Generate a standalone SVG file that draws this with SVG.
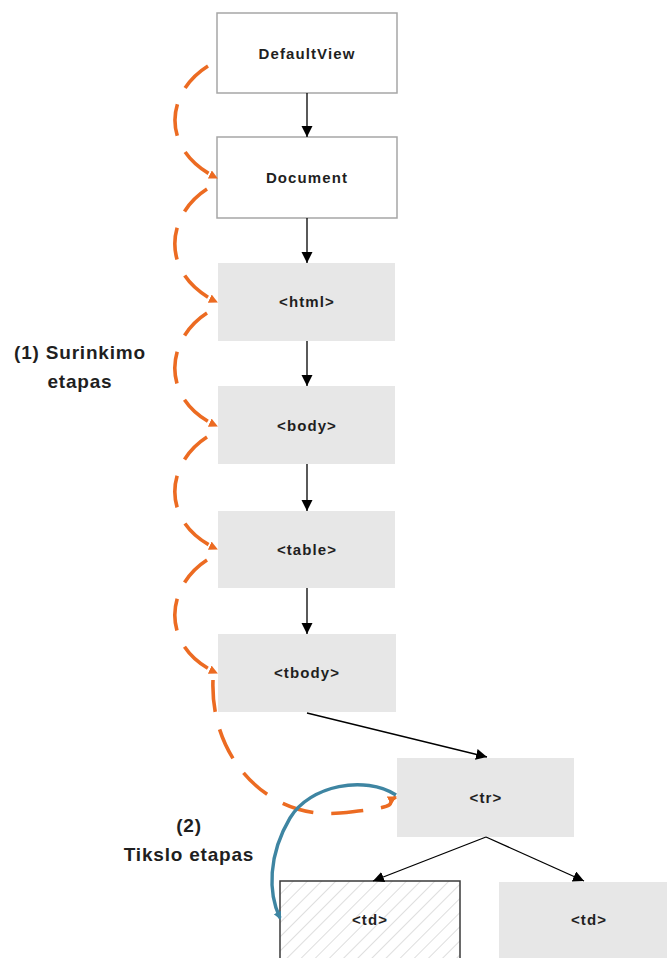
<svg xmlns="http://www.w3.org/2000/svg" width="667" height="958" viewBox="0 0 667 958">
  <style>
    .box-white { fill: #ffffff; stroke: #a6a6a6; stroke-width: 1.5; }
    .box-grey { fill: #e7e7e7; stroke: none; }
    .box-hatch { fill: url(#hatch); stroke: #3a3a3a; stroke-width: 1.5; }
    .node-label { font-family: "Liberation Sans", Arial, sans-serif; font-size: 15px; font-weight: bold; letter-spacing: 1.1px; fill: #1f1f1f; text-anchor: middle; }
    .side-label { font-family: "Liberation Sans", Arial, sans-serif; font-size: 19px; font-weight: bold; letter-spacing: 0.8px; fill: #1f1f1f; text-anchor: middle; }
    .edge { fill: none; stroke: #000000; stroke-width: 1.3; marker-end: url(#arrow-black); }
    .step-collect { fill: none; stroke: #ec6b22; stroke-width: 3.6; stroke-dasharray: 32 18; marker-end: url(#arrow-orange); }
    .step-target { fill: none; stroke: #3e85a2; stroke-width: 3.4; marker-end: url(#arrow-blue); }
  </style>
  <defs>
    <pattern id="hatch" patternUnits="userSpaceOnUse" width="10" height="10" patternTransform="rotate(45)">
      <rect width="10" height="10" fill="#ffffff"/>
      <line x1="0" y1="0" x2="0" y2="10" stroke="#c8c8c8" stroke-width="1.2"/>
    </pattern>
    <marker id="arrow-black" markerUnits="userSpaceOnUse" markerWidth="12" markerHeight="12" refX="11" refY="5.5" orient="auto">
      <path d="M0,0 L11,5.5 L0,11 z" fill="#000000"/>
    </marker>
    <marker id="arrow-orange" markerUnits="userSpaceOnUse" markerWidth="10" markerHeight="10" refX="8" refY="4.5" orient="auto">
      <path d="M0,0 L9,4.5 L0,9 z" fill="#ec6b22"/>
    </marker>
    <marker id="arrow-blue" markerUnits="userSpaceOnUse" markerWidth="10" markerHeight="10" refX="6" refY="4" orient="auto">
      <path d="M0,0 L8,4 L0,8 z" fill="#3e85a2"/>
    </marker>
  </defs>

  <rect width="667" height="958" fill="#ffffff"/>

  <!-- tree nodes -->
  <g id="node-defaultview">
    <rect class="box-white" x="217" y="13" width="180" height="80"/>
    <text class="node-label" x="307" y="59">DefaultView</text>
  </g>
  <g id="node-document">
    <rect class="box-white" x="217" y="137" width="180" height="81"/>
    <text class="node-label" x="307" y="183">Document</text>
  </g>
  <g id="node-html">
    <rect class="box-grey" x="218" y="263" width="177" height="78"/>
    <text class="node-label" x="307" y="307">&lt;html&gt;</text>
  </g>
  <g id="node-body">
    <rect class="box-grey" x="218" y="386" width="177" height="78"/>
    <text class="node-label" x="307" y="431">&lt;body&gt;</text>
  </g>
  <g id="node-table">
    <rect class="box-grey" x="218" y="511" width="177" height="77"/>
    <text class="node-label" x="307" y="555">&lt;table&gt;</text>
  </g>
  <g id="node-tbody">
    <rect class="box-grey" x="218" y="634" width="178" height="78"/>
    <text class="node-label" x="307" y="678">&lt;tbody&gt;</text>
  </g>
  <g id="node-tr">
    <rect class="box-grey" x="397" y="758" width="177" height="79"/>
    <text class="node-label" x="486" y="803">&lt;tr&gt;</text>
  </g>
  <g id="node-td-target">
    <rect class="box-hatch" x="280" y="881" width="180" height="80"/>
    <text class="node-label" x="370" y="925">&lt;td&gt;</text>
  </g>
  <g id="node-td">
    <rect class="box-grey" x="499" y="882" width="170" height="80"/>
    <text class="node-label" x="589" y="925">&lt;td&gt;</text>
  </g>

  <!-- parent/child connectors -->
  <g id="connectors">
    <line class="edge" x1="307" y1="93" x2="307" y2="137"/>
    <line class="edge" x1="307" y1="218" x2="307" y2="263"/>
    <line class="edge" x1="307" y1="341" x2="307" y2="386"/>
    <line class="edge" x1="307" y1="464" x2="307" y2="511"/>
    <line class="edge" x1="307" y1="588" x2="307" y2="634"/>
    <line class="edge" x1="307" y1="713" x2="487" y2="757"/>
    <line class="edge" x1="486" y1="837" x2="373" y2="881"/>
    <line class="edge" x1="486" y1="837" x2="584" y2="881"/>
  </g>

  <!-- event phases -->
  <g id="phase-capture">
    <path class="step-collect" d="M208,66 C165,93 160,150 217,178"/>
    <path class="step-collect" d="M207,189 C165,216 160,275 217,302"/>
    <path class="step-collect" d="M207,313 C165,340 160,400 217,426"/>
    <path class="step-collect" d="M207,437 C165,464 160,523 217,549"/>
    <path class="step-collect" d="M207,560 C165,587 160,647 217,673"/>
    <path class="step-collect" d="M213,680 C210,760 270,820 340,813 S382,804 396,797"/>
  </g>
  <g id="phase-target">
    <path class="step-target" d="M396,795 C365,775 310,785 290,818 C268,855 268,893 280,918"/>
  </g>

  <!-- phase labels -->
  <g id="labels">
    <text class="side-label" x="80" y="359">(1) Surinkimo</text>
    <text class="side-label" x="80" y="388">etapas</text>
    <text class="side-label" x="189" y="832">(2)</text>
    <text class="side-label" x="189" y="861">Tikslo etapas</text>
  </g>
</svg>
